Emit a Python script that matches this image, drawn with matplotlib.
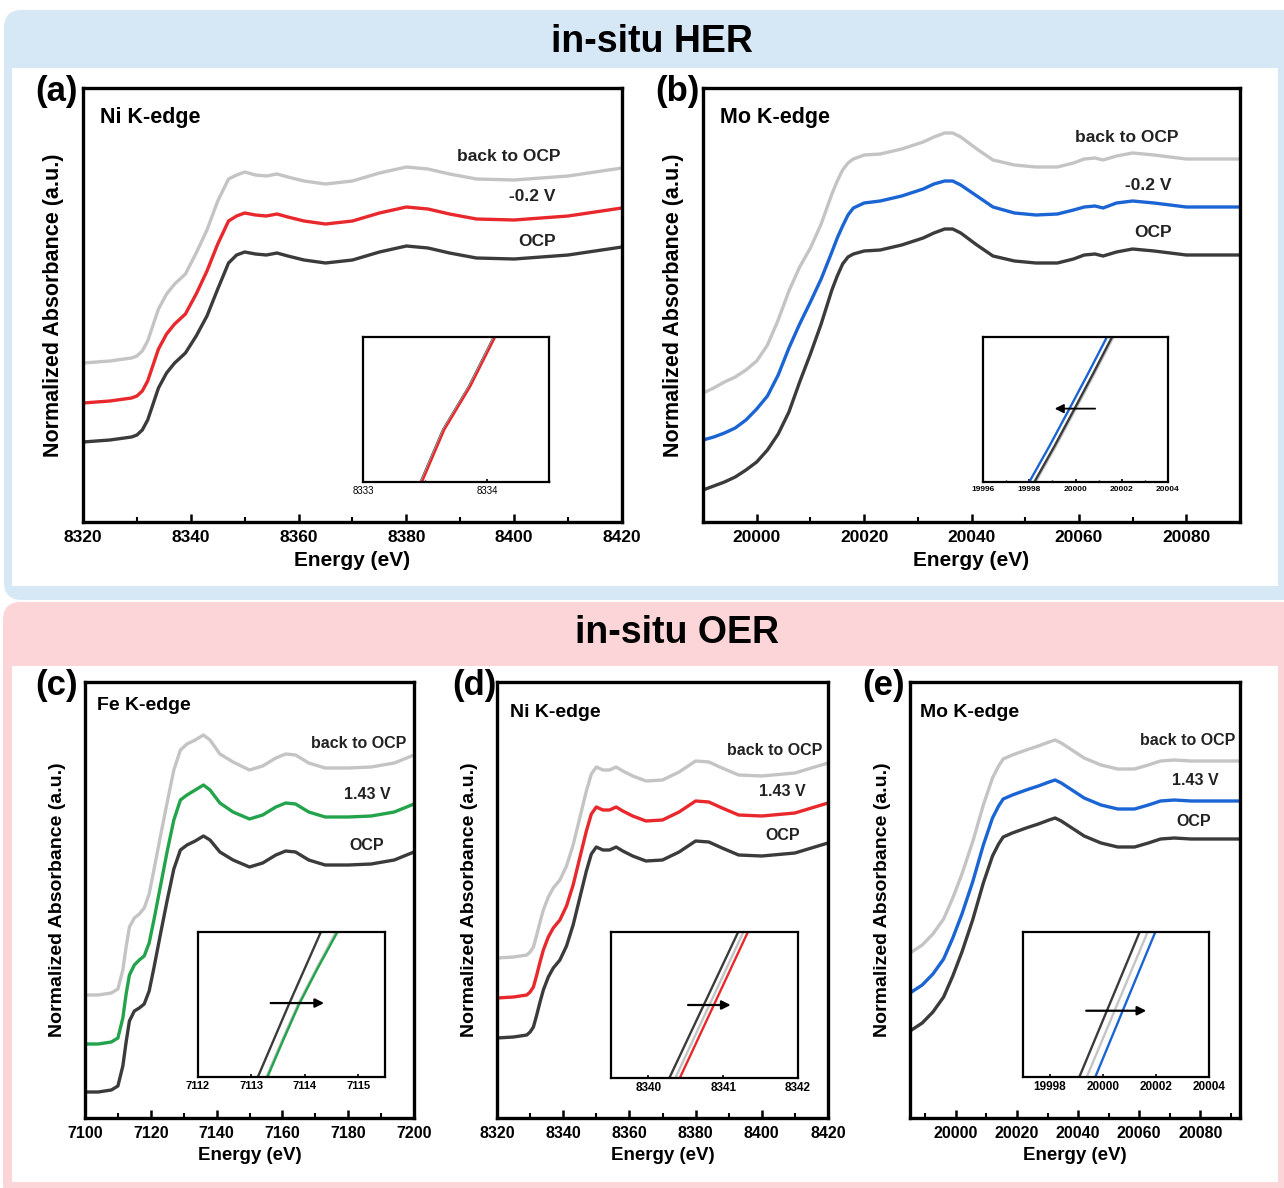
import numpy as np
import matplotlib.pyplot as plt
from matplotlib.patches import FancyBboxPatch, Rectangle
from matplotlib.ticker import MultipleLocator, FormatStrFormatter

plt.rcParams['font.family'] = ['Liberation Sans', 'DejaVu Sans']
plt.rcParams['font.weight'] = 'bold'
plt.rcParams['axes.labelweight'] = 'bold'

# colours
c_ocp = '#3b3b3b'
c_back = '#c4c4c4'
c_red = '#e8282c'
c_blue = '#1b64d4'
c_green = '#23a34c'

# ---------- (a) in-situ HER, Ni K-edge ----------
e_a = [8320, 8325, 8329, 8330, 8331, 8332, 8333, 8334, 8335.5, 8337, 8339, 8341, 8343, 8345, 8347, 8348.5,
       8350, 8352, 8354, 8356, 8358, 8361, 8365, 8370, 8375, 8380, 8384, 8388, 8393, 8400, 8410, 8420]
ocp_a = [0.80, 0.82, 0.85, 0.87, 0.92, 1.02, 1.18, 1.34, 1.49, 1.59, 1.69, 1.86, 2.06, 2.33, 2.59, 2.67,
         2.70, 2.68, 2.67, 2.69, 2.66, 2.62, 2.59, 2.62, 2.70, 2.76, 2.74, 2.69, 2.64, 2.63, 2.67, 2.75]
v_a = [1.19, 1.21, 1.24, 1.26, 1.31, 1.41, 1.57, 1.73, 1.88, 1.98, 2.08, 2.28, 2.51, 2.78, 3.01, 3.06,
       3.09, 3.07, 3.06, 3.08, 3.05, 3.01, 2.98, 3.01, 3.09, 3.15, 3.13, 3.08, 3.03, 3.02, 3.06, 3.14]
back_a = [1.59, 1.61, 1.64, 1.66, 1.71, 1.81, 1.97, 2.13, 2.28, 2.38, 2.48, 2.69, 2.92, 3.21, 3.43, 3.47,
          3.50, 3.47, 3.46, 3.48, 3.45, 3.41, 3.38, 3.41, 3.49, 3.55, 3.53, 3.48, 3.43, 3.42, 3.46, 3.54]

# ---------- (b) in-situ HER, Mo K-edge ----------
e_b = [19990, 19992, 19994, 19996, 19998, 20000, 20002, 20004, 20006, 20008, 20010, 20012, 20014, 20015,
       20016, 20017, 20018, 20020, 20023, 20027, 20031, 20033, 20035, 20036.5, 20038, 20041, 20044, 20048,
       20052, 20056, 20059, 20061, 20063, 20064.5, 20067, 20070, 20074, 20080, 20090]
ocp_b = [0.32, 0.36, 0.40, 0.45, 0.52, 0.60, 0.72, 0.88, 1.10, 1.40, 1.68, 1.98, 2.32, 2.46,
         2.58, 2.65, 2.68, 2.71, 2.72, 2.77, 2.84, 2.89, 2.93, 2.93, 2.89, 2.77, 2.66, 2.61,
         2.59, 2.59, 2.63, 2.67, 2.68, 2.66, 2.70, 2.73, 2.71, 2.67, 2.67]
v_b = [0.82, 0.85, 0.89, 0.94, 1.02, 1.13, 1.26, 1.47, 1.74, 1.98, 2.20, 2.43, 2.70, 2.84,
       2.96, 3.07, 3.14, 3.19, 3.21, 3.26, 3.33, 3.38, 3.41, 3.41, 3.37, 3.26, 3.15, 3.09,
       3.07, 3.08, 3.12, 3.15, 3.16, 3.14, 3.19, 3.21, 3.19, 3.15, 3.15]
back_b = [1.29, 1.34, 1.40, 1.45, 1.52, 1.61, 1.77, 2.02, 2.31, 2.55, 2.74, 2.98, 3.28, 3.41,
          3.52, 3.59, 3.63, 3.67, 3.68, 3.73, 3.80, 3.85, 3.89, 3.89, 3.85, 3.73, 3.62, 3.57,
          3.55, 3.55, 3.59, 3.63, 3.64, 3.62, 3.66, 3.69, 3.67, 3.63, 3.63]

# ---------- (c) in-situ OER, Fe K-edge ----------
e_c = [7100, 7104, 7108, 7110, 7111.5, 7112.5, 7113.5, 7115, 7116.5, 7118, 7119.5, 7121, 7123, 7125,
       7127, 7129, 7131, 7133.5, 7136, 7138, 7141, 7145, 7150, 7154, 7158, 7161, 7164, 7168, 7173,
       7180, 7187, 7194, 7200]
ocp_c = [0.26, 0.26, 0.28, 0.32, 0.52, 0.76, 0.97, 1.07, 1.10, 1.14, 1.27, 1.51, 1.85, 2.18,
         2.49, 2.68, 2.73, 2.77, 2.82, 2.78, 2.66, 2.58, 2.51, 2.55, 2.63, 2.67, 2.66, 2.58, 2.53,
         2.53, 2.54, 2.58, 2.66]
v_c = [0.74, 0.74, 0.76, 0.80, 1.00, 1.24, 1.43, 1.53, 1.58, 1.62, 1.75, 1.99, 2.33, 2.67,
       2.98, 3.18, 3.23, 3.28, 3.33, 3.28, 3.15, 3.06, 2.99, 3.03, 3.11, 3.15, 3.14, 3.06, 3.01,
       3.01, 3.02, 3.06, 3.14]
back_c = [1.23, 1.23, 1.25, 1.29, 1.48, 1.71, 1.91, 2.00, 2.04, 2.10, 2.24, 2.49, 2.83, 3.16,
          3.48, 3.68, 3.74, 3.78, 3.83, 3.78, 3.64, 3.56, 3.48, 3.52, 3.60, 3.64, 3.63, 3.55, 3.50,
          3.50, 3.51, 3.55, 3.63]

# ---------- (d) in-situ OER, Ni K-edge ----------
e_d = e_a
ocp_d = [0.80, 0.81, 0.83, 0.86, 0.91, 1.03, 1.16, 1.28, 1.41, 1.50, 1.58, 1.72, 1.93, 2.20, 2.47, 2.64,
         2.71, 2.68, 2.68, 2.71, 2.67, 2.62, 2.57, 2.58, 2.66, 2.77, 2.76, 2.70, 2.63, 2.62, 2.65, 2.75]
v_d = [1.20, 1.21, 1.23, 1.26, 1.31, 1.43, 1.56, 1.68, 1.81, 1.90, 1.98, 2.12, 2.33, 2.60, 2.87, 3.04,
       3.11, 3.08, 3.08, 3.11, 3.07, 3.02, 2.97, 2.98, 3.06, 3.17, 3.16, 3.10, 3.03, 3.02, 3.05, 3.15]
back_d = [1.60, 1.61, 1.63, 1.66, 1.71, 1.83, 1.96, 2.08, 2.21, 2.30, 2.38, 2.52, 2.73, 3.00, 3.27, 3.44,
          3.51, 3.48, 3.48, 3.51, 3.47, 3.42, 3.37, 3.38, 3.46, 3.57, 3.56, 3.50, 3.43, 3.42, 3.45, 3.55]

# ---------- (e) in-situ OER, Mo K-edge ----------
e_e = [19985, 19989, 19992.5, 19996, 19999, 20002, 20005.5, 20009, 20012, 20014, 20015.5, 20018.5, 20023,
       20027, 20030.5, 20032.5, 20034.5, 20038, 20042, 20047.5, 20053, 20058.5, 20063, 20067, 20071.5,
       20077, 20082, 20087.5, 20093]
ocp_e = [0.87, 0.95, 1.06, 1.21, 1.42, 1.66, 1.98, 2.35, 2.62, 2.74, 2.81, 2.85, 2.90,
         2.94, 2.98, 3.00, 2.97, 2.90, 2.82, 2.75, 2.71, 2.71, 2.75, 2.79, 2.80,
         2.79, 2.79, 2.79, 2.79]
v_e = [1.25, 1.33, 1.44, 1.59, 1.80, 2.04, 2.36, 2.73, 3.00, 3.12, 3.19, 3.23, 3.28,
       3.32, 3.36, 3.38, 3.35, 3.28, 3.20, 3.13, 3.09, 3.09, 3.13, 3.17, 3.18,
       3.17, 3.17, 3.17, 3.17]
back_e = [1.65, 1.73, 1.84, 1.99, 2.20, 2.44, 2.76, 3.13, 3.40, 3.52, 3.59, 3.63, 3.68,
          3.72, 3.76, 3.78, 3.75, 3.68, 3.60, 3.53, 3.49, 3.49, 3.53, 3.57, 3.58,
          3.57, 3.57, 3.57, 3.57]

# ---------- insets (edge position vs. relative height) ----------
ins_a_y = [0, 0.2, 0.36, 0.66, 1.0]
ins_a_ocp = [8333.465, 8333.565, 8333.645, 8333.855, 8334.055]
ins_a_back = [8333.47, 8333.57, 8333.65, 8333.86, 8334.06]
ins_a_v = [8333.475, 8333.575, 8333.655, 8333.865, 8334.065]

ins_b_y = [0, 0.25, 0.5, 0.75, 1.0]
ins_b_v = [19998.0, 19998.88, 19999.72, 20000.55, 20001.36]
ins_b_ocp = [19998.22, 19999.10, 19999.94, 20000.77, 20001.58]
ins_b_back = [19998.28, 19999.16, 20000.00, 20000.83, 20001.64]

ins_c_y = [0, 0.25, 0.5, 0.75, 1.0]
ins_c_ocp = [7113.12, 7113.41, 7113.70, 7114.00, 7114.30]
ins_c_back = [7113.28, 7113.57, 7113.87, 7114.22, 7114.58]
ins_c_v = [7113.30, 7113.59, 7113.89, 7114.24, 7114.61]

ins_d_y = [0, 1]
ins_d_ocp = [8340.28, 8341.20]
ins_d_back = [8340.36, 8341.27]
ins_d_v = [8340.42, 8341.33]

ins_e_y = [0, 1]
ins_e_ocp = [19999.12, 20001.39]
ins_e_back = [19999.40, 20001.69]
ins_e_v = [19999.72, 20001.98]

W, H = 1284, 1188
fig = plt.figure(figsize=(W / 100, H / 100), dpi=100)


def box(x0, y0, x1, y1):
    return [x0 / W, 1 - y1 / H, (x1 - x0) / W, (y1 - y0) / H]


# background panels
bg = fig.add_axes([0, 0, 1, 1])
bg.set_xlim(0, W)
bg.set_ylim(H, 0)
bg.axis('off')
bg.add_patch(FancyBboxPatch((4, 10), 1300, 590, boxstyle='round,pad=0,rounding_size=18',
                            fc='#d6e7f5', ec='none'))
bg.add_patch(Rectangle((12, 68), 1266, 518, fc='white', ec='none'))
bg.add_patch(FancyBboxPatch((3, 602), 1300, 600, boxstyle='round,pad=0,rounding_size=18',
                            fc='#fbd5d8', ec='none'))
bg.add_patch(Rectangle((12, 666), 1266, 516, fc='white', ec='none'))
bg.text(652, 42, 'in-situ HER', fontsize=27, ha='center', va='center')
bg.text(677, 633, 'in-situ OER', fontsize=27, ha='center', va='center')
for tag, x, y in [('(a)', 35, 91), ('(b)', 655, 91), ('(c)', 35, 686), ('(d)', 452, 686), ('(e)', 862, 686)]:
    bg.text(x, y, tag, fontsize=25, ha='left', va='center')


def panel(rect, e, series, xlim, ticks, edge, texts, big):
    ax = fig.add_axes(box(*rect))
    for y, col in series:
        ax.plot(e, y, color=col, lw=2.4, solid_joinstyle='round', solid_capstyle='round')
    ax.set_xlim(xlim)
    ax.set_ylim(0, (rect[3] - rect[1]) / 100)
    ax.set_xticks(ticks)
    ax.xaxis.set_minor_locator(MultipleLocator(10))
    ax.xaxis.set_major_formatter(FormatStrFormatter('%d'))
    ax.set_yticks([])
    for s in ax.spines.values():
        s.set_linewidth(2.4)
    fs_tick, fs_lab, fs_txt = (12.5, 15.5, 12.5) if big else (11.5, 14, 11.5)
    ax.tick_params(axis='x', which='major', direction='in', length=6, width=1.8,
                   labelsize=fs_tick, pad=6)
    ax.tick_params(axis='x', which='minor', direction='in', length=3.5, width=1.5)
    ax.set_xlabel('Energy (eV)', fontsize=fs_lab - 0.5, labelpad=4)
    ax.set_ylabel('Normalized Absorbance (a.u.)', fontsize=fs_lab, labelpad=14)
    ax.text(edge[1], edge[2], edge[0], transform=ax.transAxes, fontsize=fs_lab, ha='left', va='center')
    for t, x, y in texts:
        ax.text(x, y, t, transform=ax.transAxes, fontsize=fs_txt, ha='center', va='center', color='#222222')
    return ax


def inset(rect, y, lines, xlim, major, minor, fs, weight, arrow=None, arrow_lw=1.6):
    ia = fig.add_axes(box(*rect))
    for x, col in lines:
        ia.plot(x, y, color=col, lw=1.7)
    ia.set_xlim(xlim)
    ia.set_ylim(0, 1)
    ia.set_yticks([])
    ia.xaxis.set_major_locator(MultipleLocator(major))
    if minor:
        ia.xaxis.set_minor_locator(MultipleLocator(minor))
    ia.xaxis.set_major_formatter(FormatStrFormatter('%d'))
    for s in ia.spines.values():
        s.set_linewidth(1.6)
    ia.tick_params(axis='x', which='major', direction='in', length=2.5, width=1.2,
                   labelsize=fs, pad=3)
    ia.tick_params(axis='x', which='minor', direction='in', length=1.5, width=1)
    for lab in ia.get_xticklabels():
        lab.set_fontweight(weight)
    if arrow:
        ia.annotate('', xy=(arrow[1], arrow[2]), xytext=(arrow[0], arrow[2]),
                    arrowprops=dict(arrowstyle='-|>', color='black', lw=arrow_lw,
                                    mutation_scale=13, shrinkA=0, shrinkB=0))
    return ia


panel((83, 88, 622, 522), e_a, [(ocp_a, c_ocp), (v_a, c_red), (back_a, c_back)], (8320, 8420),
      range(8320, 8421, 20), ('Ni K-edge', 0.032, 0.933),
      [('back to OCP', 0.79, 0.843), ('-0.2 V', 0.833, 0.749), ('OCP', 0.842, 0.647)], True)
panel((703, 88, 1240, 522), e_b, [(ocp_b, c_ocp), (v_b, c_blue), (back_b, c_back)], (19990, 20090),
      range(20000, 20081, 20), ('Mo K-edge', 0.032, 0.933),
      [('back to OCP', 0.79, 0.887), ('-0.2 V', 0.83, 0.776), ('OCP', 0.838, 0.666)], True)
panel((85, 682, 414, 1118), e_c, [(ocp_c, c_ocp), (v_c, c_green), (back_c, c_back)], (7100, 7200),
      range(7100, 7201, 20), ('Fe K-edge', 0.036, 0.945),
      [('back to OCP', 0.833, 0.858), ('1.43 V', 0.857, 0.741), ('OCP', 0.857, 0.624)], False)
panel((497, 682, 828, 1118), e_d, [(ocp_d, c_ocp), (v_d, c_red), (back_d, c_back)], (8320, 8420),
      range(8320, 8421, 20), ('Ni K-edge', 0.039, 0.931),
      [('back to OCP', 0.84, 0.842), ('1.43 V', 0.861, 0.748), ('OCP', 0.864, 0.647)], False)
panel((910, 682, 1240, 1118), e_e, [(ocp_e, c_ocp), (v_e, c_blue), (back_e, c_back)], (19985, 20093),
      range(20000, 20081, 20), ('Mo K-edge', 0.03, 0.931),
      [('back to OCP', 0.84, 0.865), ('1.43 V', 0.864, 0.773), ('OCP', 0.86, 0.679)], False)

inset((363, 337, 549, 482), ins_a_y, [(ins_a_ocp, c_ocp), (ins_a_back, c_back), (ins_a_v, c_red)],
      (8333, 8334.5), 1, 0.5, 7, 'normal')
inset((983, 337, 1168, 482), ins_b_y, [(ins_b_back, c_back), (ins_b_ocp, c_ocp), (ins_b_v, c_blue)],
      (19996, 20004), 2, 1, 6, 'bold', arrow=(20000.85, 19999.1, 0.506), arrow_lw=1.3)
inset((198, 932, 385, 1077), ins_c_y, [(ins_c_ocp, c_ocp), (ins_c_back, c_back), (ins_c_v, c_green)],
      (7112, 7115.5), 1, None, 8, 'bold', arrow=(7113.36, 7114.36, 0.51))
inset((611, 932, 798, 1078), ins_d_y, [(ins_d_ocp, c_ocp), (ins_d_back, c_back), (ins_d_v, c_red)],
      (8339.5, 8342), 1, None, 8.5, 'bold', arrow=(8340.53, 8341.1, 0.5))
inset((1023, 932, 1209, 1077), ins_e_y, [(ins_e_ocp, c_ocp), (ins_e_back, c_back), (ins_e_v, c_blue)],
      (19997, 20004), 2, None, 8.5, 'bold', arrow=(19999.38, 20001.64, 0.457))

fig.savefig('out.png', dpi=100)
